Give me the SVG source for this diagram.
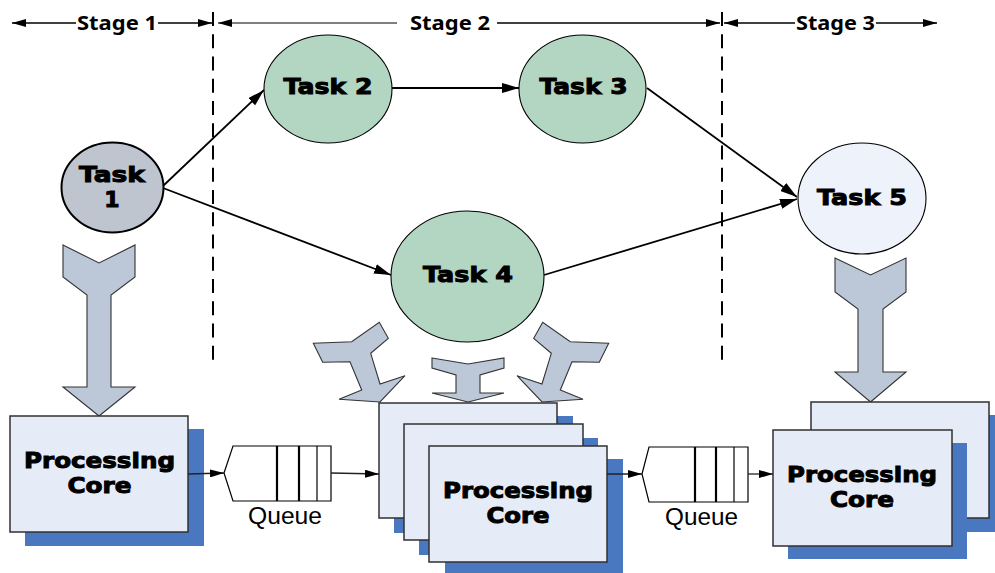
<svg xmlns="http://www.w3.org/2000/svg" width="995" height="573" viewBox="0 0 995 573">
  <style>
    .stage { font-family: "Noto Sans", "Open Sans", "DejaVu Sans", sans-serif; font-weight: bold; font-size: 20px; fill: #000; }
    .stageline { stroke: #000; stroke-width: 1.3; fill: none; }
    .divider { stroke: #000; stroke-width: 2; stroke-dasharray: 14 8.25; fill: none; }
    .task { stroke: #000; stroke-width: 1.1; }
    .green { fill: #b3d6c3; }
    .label { font-family: "DejaVu Sans", "Liberation Sans", sans-serif; font-weight: bold; font-size: 22px; fill: #000; stroke: #000; stroke-width: 1; text-anchor: middle; }
    .core { fill: #e6ecf7; stroke: #303030; stroke-width: 1.5; }
    .shadow { fill: #4a78c0; }
    .queue { fill: #fff; stroke: #000; stroke-width: 1.2; }
    .slot { stroke: #000; stroke-width: 2.2; }
    .slot-thin { stroke: #000; stroke-width: 1.2; }
    .qtext { font-family: "Liberation Sans", Arial, sans-serif; font-size: 23px; fill: #000; text-anchor: middle; }
    .edge { stroke: #000; stroke-width: 1.8; fill: none; marker-end: url(#head); }
    .link { stroke: #222; stroke-width: 1.3; fill: none; marker-end: url(#small); }
    .block { fill: #bcc7d8; stroke: #333; stroke-width: 1.1; stroke-linejoin: miter; }
  </style>
  <defs>
    <marker id="head" viewBox="0 0 17 10" refX="17" refY="5" markerWidth="17" markerHeight="10" markerUnits="userSpaceOnUse" orient="auto">
      <path d="M0,0 L17,5 L0,10 z" fill="#000"/>
    </marker>
    <marker id="small" viewBox="0 0 14 8" refX="14" refY="4" markerWidth="14" markerHeight="8" markerUnits="userSpaceOnUse" orient="auto">
      <path d="M0,0 L14,4 L0,8 z" fill="#000"/>
    </marker>
    <marker id="stagehead" viewBox="0 0 14 8" refX="14" refY="4" markerWidth="14" markerHeight="8" markerUnits="userSpaceOnUse" orient="auto-start-reverse">
      <path d="M0,0 L14,4 L0,8 z" fill="#000"/>
    </marker>
    <!-- tilted Y-shaped assignment arrow, tip at (380,402) -->
    <polygon id="tiltArrow" points="313.3,343.3 351.7,341.7 379.3,322.3 388.3,338.3 370.7,353.3 380,384 405,375.7 380,402 339,399.3 361.7,390 350,361.7 322.7,362.3"/>
  </defs>

  <rect x="0" y="0" width="995" height="573" fill="#fff"/>

  <!-- stage header with boundaries -->
  <g id="stages">
    <line class="stageline" x1="12" y1="23" x2="76" y2="23" marker-start="url(#stagehead)"/>
    <text class="stage" x="77" y="30" textLength="80" lengthAdjust="spacingAndGlyphs">Stage 1</text>
    <line class="stageline" x1="158" y1="23" x2="212" y2="23" marker-end="url(#stagehead)"/>

    <line class="stageline" x1="218" y1="23" x2="397" y2="23" style="stroke:#555" marker-start="url(#stagehead)"/>
    <text class="stage" x="410" y="30" textLength="80" lengthAdjust="spacingAndGlyphs">Stage 2</text>
    <line class="stageline" x1="497" y1="23" x2="720" y2="23" marker-end="url(#stagehead)"/>

    <line class="stageline" x1="724" y1="23" x2="795" y2="23" marker-start="url(#stagehead)"/>
    <text class="stage" x="796" y="30" textLength="79" lengthAdjust="spacingAndGlyphs">Stage 3</text>
    <line class="stageline" x1="876" y1="23" x2="937" y2="23" marker-end="url(#stagehead)"/>

    <line class="divider" x1="213" y1="12" x2="213" y2="360"/>
    <line class="divider" x1="722" y1="12" x2="722" y2="360"/>
  </g>

  <!-- connectors -->
  <g id="connectors">
    <line class="edge" x1="163" y1="186" x2="264" y2="90"/>
    <line class="edge" x1="163" y1="188" x2="391" y2="275"/>
    <line class="edge" x1="392" y1="88" x2="519" y2="88"/>
    <line class="edge" x1="647" y1="88" x2="797" y2="197"/>
    <line class="edge" x1="544" y1="275" x2="797" y2="199"/>

    <!-- task-to-core assignment arrows -->
    <polygon class="block" points="63,245 99,263 135,245 135,277 111,295 111,387 135,387 99,416 63,387 87,387 87,295 63,277"/>
    <polygon class="block" points="835,258 870.5,275 906,258 906,292 883,309 883,372 906,372 870.5,402 835,372 858,372 858,309 835,292"/>
    <polygon class="block" points="432,358 468,364 504,358 504,368 480,375 480,393 504,393 468,402 432,393 456,393 456,375 432,368"/>
    <use href="#tiltArrow" class="block"/>
    <use href="#tiltArrow" class="block" transform="translate(922,0) scale(-1,1)"/>
  </g>

  <!-- tasks -->
  <g id="task1">
    <ellipse cx="112.5" cy="187.5" rx="51" ry="45" fill="#bec5cf" stroke="#000" stroke-width="2"/>
    <text class="label" x="112" y="182" textLength="66" lengthAdjust="spacingAndGlyphs">Task</text>
    <text class="label" x="112" y="207">1</text>
  </g>
  <g id="task2">
    <ellipse class="task green" cx="328" cy="89" rx="64" ry="54"/>
    <text class="label" x="328" y="94" textLength="89" lengthAdjust="spacingAndGlyphs">Task 2</text>
  </g>
  <g id="task3">
    <ellipse class="task green" cx="582.5" cy="89" rx="63.5" ry="54"/>
    <text class="label" x="583.5" y="94" textLength="88" lengthAdjust="spacingAndGlyphs">Task 3</text>
  </g>
  <g id="task4">
    <ellipse class="task green" cx="467.5" cy="276.5" rx="76.5" ry="65.5"/>
    <text class="label" x="468" y="282" textLength="90" lengthAdjust="spacingAndGlyphs">Task 4</text>
  </g>
  <g id="task5">
    <ellipse class="task" cx="862" cy="198.5" rx="64" ry="55.5" fill="#eef2fa"/>
    <text class="label" x="862" y="205" textLength="90" lengthAdjust="spacingAndGlyphs">Task 5</text>
  </g>

  <!-- stage 1 core -->
  <g id="core1">
    <rect class="shadow" x="25" y="429" width="179" height="117"/>
    <rect class="core" x="10" y="416" width="178" height="116"/>
    <text class="label" x="99.5" y="468" textLength="151" lengthAdjust="spacingAndGlyphs">Processing</text>
    <text class="label" x="99.5" y="493" textLength="64" lengthAdjust="spacingAndGlyphs">Core</text>
  </g>

  <g id="queue1">
    <polygon class="queue" points="224,473 233,446 331,446 331,501 233,501"/>
    <line class="slot" x1="277" y1="446" x2="277" y2="501"/>
    <line class="slot" x1="299" y1="446" x2="299" y2="501"/>
    <line class="slot-thin" x1="317" y1="446" x2="317" y2="501"/>
    <text class="qtext" x="285" y="524" textLength="74" lengthAdjust="spacingAndGlyphs">Queue</text>
  </g>

  <!-- stage 2 cores: three stacked -->
  <g id="core2">
    <rect class="shadow" x="394" y="416" width="179" height="117"/>
    <rect class="core" x="379" y="403" width="178" height="115"/>
    <rect class="shadow" x="419" y="438" width="179" height="117"/>
    <rect class="core" x="404" y="424" width="179" height="116"/>
    <rect class="shadow" x="445" y="459" width="178" height="114"/>
    <rect class="core" x="429" y="446" width="178" height="116"/>
    <text class="label" x="518" y="498" textLength="150" lengthAdjust="spacingAndGlyphs">Processing</text>
    <text class="label" x="518" y="523" textLength="63" lengthAdjust="spacingAndGlyphs">Core</text>
  </g>

  <g id="queue2">
    <polygon class="queue" points="642,474 649,447 748,447 748,502 649,502"/>
    <line class="slot" x1="695" y1="447" x2="695" y2="502"/>
    <line class="slot" x1="716" y1="447" x2="716" y2="502"/>
    <line class="slot-thin" x1="734" y1="447" x2="734" y2="502"/>
    <text class="qtext" x="701.5" y="525" textLength="73" lengthAdjust="spacingAndGlyphs">Queue</text>
  </g>

  <!-- stage 3 cores: two stacked -->
  <g id="core3">
    <rect class="shadow" x="826" y="415" width="179" height="117"/>
    <rect class="core" x="811" y="402" width="178" height="116"/>
    <rect class="shadow" x="788" y="443" width="179" height="116"/>
    <rect class="core" x="773" y="430" width="179" height="116"/>
    <text class="label" x="862" y="482" textLength="150" lengthAdjust="spacingAndGlyphs">Processing</text>
    <text class="label" x="862" y="507" textLength="64" lengthAdjust="spacingAndGlyphs">Core</text>
  </g>

  <!-- core and queue links -->
  <g id="pipeline-links">
    <line class="link" x1="188" y1="474" x2="224" y2="473"/>
    <line class="link" x1="331" y1="473" x2="379" y2="474"/>
    <line class="link" x1="607" y1="474" x2="642" y2="474"/>
    <line class="link" x1="748" y1="474" x2="773" y2="474"/>
  </g>
</svg>
